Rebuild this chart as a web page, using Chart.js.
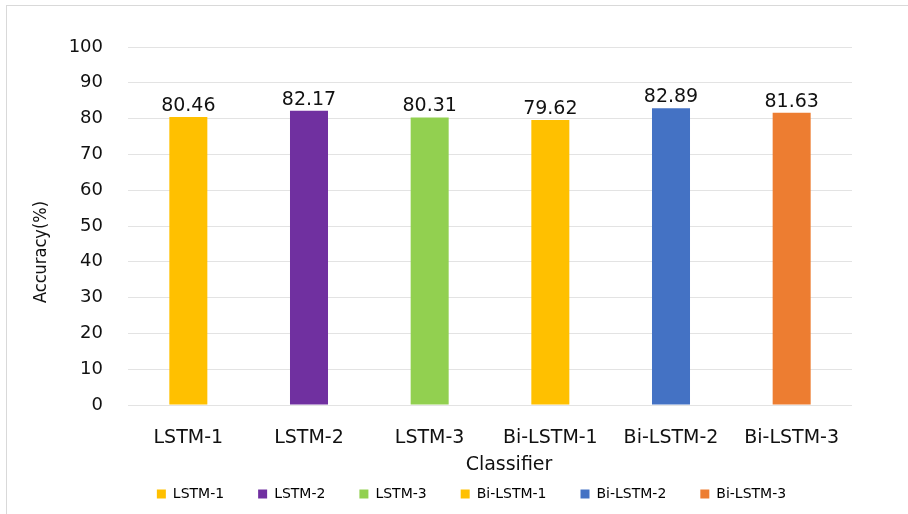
<!DOCTYPE html>
<html>
<head>
<meta charset="utf-8">
<script src="https://cdn.jsdelivr.net/npm/chart.js@4.4.1/dist/chart.umd.min.js"></script>
<style>
    html, body { margin: 0; padding: 0; background: #fff; }
    #frame { position: absolute; left: 6px; top: 5px; width: 1000px; height: 1000px; border-left: 1px solid #d9d9d9; border-top: 1px solid #d9d9d9; }
    #wrap { position: absolute; left: 0; top: 0; width: 908px; height: 514px; }
</style>
</head>
<body>
<div id="frame"></div>
<div id="wrap"><canvas id="chart1"></canvas></div>
<script>
const classifiers = ['LSTM-1', 'LSTM-2', 'LSTM-3', 'Bi-LSTM-1', 'Bi-LSTM-2', 'Bi-LSTM-3'];
const accuracy = [80.46, 82.17, 80.31, 79.62, 82.89, 81.63];
const barColors = ['#FFC000', '#7030A0', '#92D050', '#FFC000', '#4472C4', '#ED7D31'];
const yTicks = [0, 10, 20, 30, 40, 50, 60, 70, 80, 90, 100];
const xTitle = 'Classifier';
const yTitle = 'Accuracy(%)';

const textColor = '#111';
const font = '"DejaVu Sans", Verdana, sans-serif';

// value on top of every bar
const barValues = {
    id: 'barValues',
    afterDatasetsDraw(chart) {
        const ctx = chart.ctx;
        const meta = chart.getDatasetMeta(0);
        ctx.save();
        ctx.fillStyle = textColor;
        ctx.font = '19px ' + font;
        ctx.textAlign = 'center';
        ctx.textBaseline = 'alphabetic';
        meta.data.forEach((bar, i) => {
            ctx.fillText(accuracy[i].toFixed(2), bar.x, bar.y - 6);
        });
        ctx.restore();
    }
};

// axis titles, placed like the excel original (a bit off centre)
const axisTitles = {
    id: 'axisTitles',
    afterDraw(chart) {
        const {ctx, chartArea} = chart;
        ctx.save();
        ctx.fillStyle = textColor;
        ctx.textAlign = 'center';
        ctx.textBaseline = 'alphabetic';
        ctx.font = '19px ' + font;
        ctx.fillText(xTitle, (chartArea.left + chartArea.right) / 2 + 19, chartArea.bottom + 65);
        ctx.translate(46, (chartArea.top + chartArea.bottom) / 2 + 26);
        ctx.rotate(-Math.PI / 2);
        ctx.font = '18px "Liberation Sans Narrow", "DejaVu Sans Condensed", sans-serif';
        ctx.fillText(yTitle, 0, 0);
        ctx.restore();
    }
};

const chart1 = new Chart(document.getElementById('chart1'), {
    type: 'bar',
    data: {
        labels: classifiers,
        datasets: [{
            label: 'Accuracy',
            data: accuracy,
            backgroundColor: barColors,
            borderWidth: 0,
            barPercentage: 0.315,
            categoryPercentage: 1
        }]
    },
    options: {
        responsive: true,
        maintainAspectRatio: false,
        animation: false,
        layout: {
            padding: {left: 60, right: 25, top: 47, bottom: 3}
        },
        scales: {
            x: {
                grid: {display: false},
                border: {display: false},
                ticks: {
                    color: textColor,
                    font: {family: font, size: 19},
                    padding: 14,
                    maxRotation: 0
                },
                afterFit: s => {
                    s.height = 48;
                    s.paddingLeft = 0;
                    s.paddingRight = 0;
                }
            },
            y: {
                min: 0,
                max: 100,
                grid: {color: '#e3e3e3', drawTicks: false},
                border: {display: false},
                ticks: {
                    color: textColor,
                    font: {family: font, size: 18},
                    padding: 25,
                    callback: v => String(v)
                },
                afterBuildTicks: s => {
                    s.ticks = yTicks.map(v => ({value: v}));
                },
                afterFit: s => {
                    s.width = 68;
                    s.paddingTop = 0;
                    s.paddingBottom = 0;
                }
            },
            // empty right margin, keeps the legend where excel put it
            yRight: {
                type: 'linear',
                position: 'right',
                grid: {display: false},
                border: {display: false},
                ticks: {display: false},
                afterFit: s => {
                    s.width = 31;
                    s.paddingTop = 0;
                    s.paddingBottom = 0;
                }
            }
        },
        plugins: {
            tooltip: {enabled: false},
            legend: {
                position: 'bottom',
                onClick: null,
                labels: {
                    boxWidth: 9,
                    boxHeight: 9,
                    padding: 34,
                    color: textColor,
                    font: {family: font, size: 14},
                    generateLabels: () => classifiers.map((c, i) => ({
                        text: c,
                        fillStyle: barColors[i],
                        strokeStyle: barColors[i],
                        lineWidth: 0,
                        hidden: false,
                        index: i
                    }))
                }
            }
        }
    },
    plugins: [barValues, axisTitles]
});
</script>
</body>
</html>
